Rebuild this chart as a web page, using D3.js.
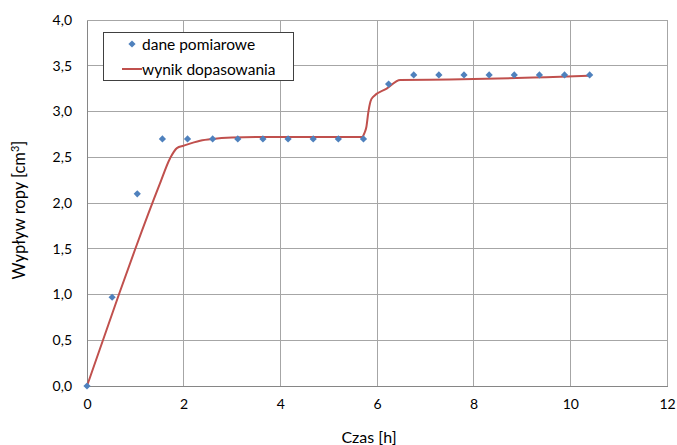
<!DOCTYPE html>
<html><head><meta charset="utf-8">
<script src="https://cdn.jsdelivr.net/npm/d3@7"></script>
<style>
body{margin:0;background:#fff;}
text{font-family:Lato,"Open Sans",sans-serif;fill:#000;}
</style></head>
<body><svg id="c" width="677" height="445"></svg>
<script>
// measured data
const timeH = [0, 0.52, 1.04, 1.56, 2.08, 2.6, 3.12, 3.64, 4.16, 4.68, 5.2, 5.72, 6.24, 6.76, 7.28, 7.8, 8.32, 8.84, 9.36, 9.88, 10.4];
const outflow = [0, 0.97, 2.1, 2.7, 2.7, 2.7, 2.7, 2.7, 2.7, 2.7, 2.7, 2.7, 3.3, 3.4, 3.4, 3.4, 3.4, 3.4, 3.4, 3.4, 3.4];
// fitted curve
const fitX = [0, 0.33, 0.66, 1.0, 1.5, 1.72, 1.86, 2.0, 2.34, 2.6, 3.0, 3.5, 4.5, 5.69, 5.74, 5.78, 5.82, 5.865, 5.92, 6.2, 6.48, 7.5, 8.5, 9.5, 10.4];
const fitY = [0, 0.5, 1.0, 1.5, 2.2, 2.49, 2.60, 2.626, 2.68, 2.70, 2.715, 2.72, 2.72, 2.72, 2.765, 2.83, 2.99, 3.11, 3.16, 3.25, 3.345, 3.35, 3.36, 3.375, 3.39];
const xTicks = [0, 2, 4, 6, 8, 10, 12];
const yTicks = [0, 0.5, 1, 1.5, 2, 2.5, 3, 3.5, 4];
const seriesNames = ["dane pomiarowe", "wynik dopasowania"];

const svg = d3.select("#c");
const m = {l: 87, r: 10, t: 20, b: 59};
const W = 677, H = 445;
const x = d3.scaleLinear().domain([0, 12]).range([m.l, W - m.r]);
const y = d3.scaleLinear().domain([0, 4]).range([H - m.b, m.t]);
const fmt = d => d3.format(".1f")(d).replace(".", ",");

// grid
svg.append("g").selectAll("line").data(xTicks.slice(1)).join("line")
  .attr("x1", d => x(d)).attr("x2", d => x(d)).attr("y1", y(0)).attr("y2", y(4))
  .attr("stroke", "#a6a6a6").attr("stroke-width", 1).attr("shape-rendering", "crispEdges");
svg.append("g").selectAll("line").data(yTicks.slice(1)).join("line")
  .attr("x1", x(0)).attr("x2", x(12)).attr("y1", d => y(d)).attr("y2", d => y(d))
  .attr("stroke", "#a6a6a6").attr("stroke-width", 1).attr("shape-rendering", "crispEdges");

// axes
const xa = svg.append("g").attr("transform", `translate(0,${y(0)})`)
  .call(d3.axisBottom(x).tickValues(xTicks).tickSize(0).tickPadding(13).tickFormat(d3.format("d")));
const ya = svg.append("g").attr("transform", `translate(${x(0)},0)`)
  .call(d3.axisLeft(y).tickValues(yTicks).tickSize(0).tickPadding(15).tickFormat(fmt));
[xa, ya].forEach(a => {
  a.select(".domain").attr("stroke", "#868686").attr("shape-rendering", "crispEdges");
  a.selectAll("text").style("font-family", "Lato").style("font-size", "14px").attr("fill", "#000");
});

// fitted line
const line = d3.line().x((d, i) => x(fitX[i])).y((d, i) => y(fitY[i])).curve(d3.curveMonotoneX);
svg.append("path").datum(fitY).attr("d", line)
  .attr("fill", "none").attr("stroke", "#c0504d").attr("stroke-width", 2);

// points
const diamond = d3.symbol().type(d3.symbolSquare).size(26);
svg.append("g").selectAll("path").data(outflow).join("path")
  .attr("d", diamond)
  .attr("transform", (d, i) => `translate(${x(timeH[i])},${y(d)}) rotate(45)`)
  .attr("fill", "#4f81bd");

// axis titles
svg.append("text").attr("x", 369).attr("y", 443).attr("text-anchor", "middle")
  .style("font-size", "16px").text("Czas [h]");
const yt = svg.append("text").attr("transform", `translate(25,210) rotate(-90)`)
  .attr("text-anchor", "middle").style("font-size", "16.5px");
yt.append("tspan").text("Wypływ ropy [cm");
yt.append("tspan").attr("dy", -6).style("font-size", "11px").text("3");
yt.append("tspan").attr("dy", 6).text("]");

// legend
const lg = svg.append("g");
lg.append("rect").attr("x", 103.5).attr("y", 32.5).attr("width", 190).attr("height", 48)
  .attr("fill", "#fff").attr("stroke", "#404040").attr("stroke-width", 1);
lg.append("path").attr("d", diamond).attr("transform", "translate(132,44) rotate(45)").attr("fill", "#4f81bd");
lg.append("line").attr("x1", 122).attr("x2", 142).attr("y1", 69).attr("y2", 69)
  .attr("stroke", "#c0504d").attr("stroke-width", 2);
lg.selectAll("text").data(seriesNames).join("text")
  .attr("x", 142).attr("y", (d, i) => 49.5 + i * 25).style("font-size", "15.5px").text(d => d);
</script></body></html>
